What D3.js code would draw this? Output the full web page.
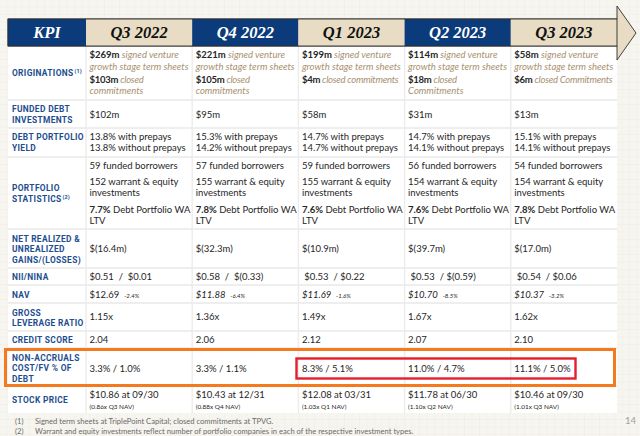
<!DOCTYPE html>
<html><head><meta charset="utf-8">
<script src="https://cdn.jsdelivr.net/npm/d3@7"></script>
<style>body{margin:0;background:#f7f5f0;} svg{display:block}</style>
</head><body><svg id="c" width="640" height="436"></svg>
<script>
// ---------- DATA ----------
const quarters = ["Q3 2022","Q4 2022","Q1 2023","Q2 2023","Q3 2023"];
const signedSheets = ["$269m","$221m","$199m","$114m","$58m"];
const signedNote = ["signed venture","growth stage term sheets"];
const closedCommit = ["$103m","$105m","$4m","$18m","$6m"];
const closedNote = ["closed\ncommitments","closed\ncommitments","closed commitments","closed\nCommitments","closed Commitments"];
const fundedDebt = ["$102m","$95m","$58m","$31m","$13m"];
const yieldWithPrepays = ["13.8%","15.3%","14.7%","14.7%","15.1%"];
const yieldWithoutPrepays = ["13.8%","14.2%","14.7%","14.1%","14.1%"];
const fundedBorrowers = [59,57,59,56,54];
const warrantEquity = [152,155,155,154,154];
const debtWaLtv = ["7.7%","7.8%","7.6%","7.6%","7.8%"];
const netGains = ["$(16.4m)","$(32.3m)","$(10.9m)","$(39.7m)","$(17.0m)"];
const nii = ["$0.51","$0.58","$0.53","$0.53","$0.54"];
const nina = ["$0.01","$(0.33)","$0.22","$(0.59)","$0.06"];
const nav = ["$12.69","$11.88","$11.69","$10.70","$10.37"];
const navChange = ["-2.4%","-6.4%","-1.6%","-8.5%","-3.2%"];
const leverage = ["1.15x","1.36x","1.49x","1.67x","1.62x"];
const creditScore = ["2.04","2.06","2.12","2.07","2.10"];
const nonAccrualCost = ["3.3%","3.3%","8.3%","11.0%","11.1%"];
const nonAccrualFV = ["1.0%","1.1%","5.1%","4.7%","5.0%"];
const stockPrice = ["$10.86","$10.43","$12.08","$11.78","$10.46"];
const stockDate = ["09/30","12/31","03/31","06/30","09/30"];
const priceToNav = ["0.86x Q3 NAV","0.88x Q4 NAV","1.03x Q1 NAV","1.10x Q2 NAV","1.01x Q3 NAV"];
const rowLabels = [["ORIGINATIONS"],["FUNDED DEBT","INVESTMENTS"],["DEBT PORTFOLIO","YIELD"],["PORTFOLIO","STATISTICS"],
  ["NET REALIZED &","UNREALIZED","GAINS/(LOSSES)"],["NII/NINA"],["NAV"],["GROSS","LEVERAGE RATIO"],["CREDIT SCORE"],
  ["NON-ACCRUALS","COST/FV % OF","DEBT"],["STOCK PRICE"]];
const labelNotes = ["(1)","","","(2)","","","","","","",""];
const footnotes = [["(1)","Signed term sheets at TriplePoint Capital; closed commitments at TPVG."],
  ["(2)","Warrant and equity investments reflect number of portfolio companies in each of the respective investment types."]];
const pageNumber = "14";

// ---------- STYLE ----------
const NAVY="#0b3b7a", TAN="#e8dcc4", LABEL="#1d4e8f", TXT="#262626", NOTE="#a8916f";
const VF="Lato, 'Liberation Sans', sans-serif", LF="Roboto, 'Liberation Sans', sans-serif";
const VS=9.5;
const W=640,H=436, L=8, R=617, HT=19, HB=46, BB=413;

const svg=d3.select("#c");
const defs=svg.append("defs");
const pat=defs.append("pattern").attr("id","grid").attr("width",7.5).attr("height",7.5).attr("patternUnits","userSpaceOnUse");
pat.append("rect").attr("width",7.5).attr("height",7.5).attr("fill","#f7f5f0");
pat.append("path").attr("d","M7.5,0V7.5M0,7.5H7.5").attr("stroke","#ebe7de").attr("stroke-width",0.6).attr("fill","none");
svg.append("rect").attr("width",W).attr("height",H).attr("fill","url(#grid)");

const x=d3.scaleBand().domain(quarters).range([86,R]);
const rowBounds=[46,100,128,157,229,268,285,303,331,348,386,413];

// body
svg.append("rect").attr("x",L).attr("y",HB).attr("width",R-L).attr("height",BB-HB).attr("fill","#fff");
svg.append("g").selectAll("line").data(rowBounds.slice(1,-1)).join("line")
  .attr("x1",L).attr("x2",R).attr("y1",d=>d).attr("y2",d=>d).attr("stroke","#e9e9e9").attr("stroke-width",1.6);
svg.append("g").selectAll("line").data(quarters).join("line")
  .attr("x1",d=>x(d)).attr("x2",d=>x(d)).attr("y1",HB).attr("y2",BB).attr("stroke","#ececec").attr("stroke-width",1.4);

// header arrow
svg.append("path").attr("d",`M${L},${HT}H${R}V6L636,33L${R},60V${HB}H${L}Z`).attr("fill",TAN).attr("stroke","#2e2e2e").attr("stroke-width",0.9);
const hdr=svg.append("g");
hdr.append("rect").attr("x",L).attr("y",HT).attr("width",86-L).attr("height",HB-HT).attr("fill",NAVY);
hdr.selectAll("rect.q").data(quarters).join("rect").attr("class","q")
  .attr("x",d=>x(d)).attr("y",HT).attr("width",x.bandwidth()).attr("height",HB-HT)
  .attr("fill",(d,i)=>i%2===1?NAVY:TAN);
svg.append("rect").attr("x",L).attr("y",HT).attr("width",R-L).attr("height",HB-HT).attr("fill","none").attr("stroke","#2e2e2e").attr("stroke-width",0.9);
hdr.append("text").attr("x",(L+86)/2).attr("y",(HT+HB)/2).attr("dy","0.36em").attr("text-anchor","middle")
  .attr("font-family","'Liberation Serif', serif").attr("font-weight","bold").attr("font-style","italic").attr("font-size",16.5).attr("fill","#fff").text("KPI");
hdr.selectAll("text.q").data(quarters).join("text").attr("class","q")
  .attr("x",d=>x(d)+x.bandwidth()/2).attr("y",(HT+HB)/2).attr("dy","0.36em").attr("text-anchor","middle")
  .attr("font-family","'Liberation Serif', serif").attr("font-weight","bold").attr("font-style","italic").attr("font-size",16.5)
  .attr("fill",(d,i)=>i%2===1?"#fff":"#111").text(d=>d);

function line(g,xp,yp,segs,ls){
  const t=g.append("text").attr("x",xp).attr("y",yp).attr("dy","0.35em").attr("font-family",VF).attr("font-size",VS).attr("fill",TXT).style("white-space","pre");
  if(ls) t.attr("letter-spacing",ls);
  segs.forEach(s=>{
    const ts=t.append("tspan").text(s.t);
    if(s.b) ts.attr("font-weight","bold");
    if(s.i) ts.attr("font-style","italic");
    if(s.c) ts.attr("fill",s.c);
    if(s.s) ts.attr("font-size",s.s);
  });
  return t;
}

// labels
const labelY=[[73],[109,120],[137,148],[188,199],[239,249,260],[277],[295],[313,323],[340],[358,368,379],[400]];
const lg=svg.append("g");
rowLabels.forEach((lines,r)=>{
  lines.forEach((s,k)=>{
    const t=lg.append("text").attr("x",12).attr("y",labelY[r][k]).attr("dy","0.35em")
      .attr("font-family",LF).attr("font-weight","bold").attr("font-size",8.4).attr("letter-spacing",0.35).attr("fill",LABEL).text(s);
    if(k===lines.length-1 && labelNotes[r]){
      t.append("tspan").attr("font-size",5.5).attr("dy","-0.5em").attr("dx",1).attr("letter-spacing",0).text(labelNotes[r]);
    }
  });
});

// values
const vg=svg.append("g");
quarters.forEach((q,i)=>{
  const cx=x(q)+3.5;
  line(vg,cx,55,[{t:signedSheets[i],b:1},{t:" "+signedNote[0],i:1,c:NOTE}]);
  line(vg,cx,67,[{t:signedNote[1],i:1,c:NOTE}]);
  const cn=closedNote[i].split("\n");
  line(vg,cx,80,[{t:closedCommit[i],b:1},{t:" "+cn[0],i:1,c:NOTE}],-0.25);
  if(cn[1]) line(vg,cx,91,[{t:cn[1],i:1,c:NOTE}]);
  line(vg,cx,115,[{t:fundedDebt[i]}]);
  line(vg,cx,137,[{t:yieldWithPrepays[i]+" with prepays"}]);
  line(vg,cx,148,[{t:yieldWithoutPrepays[i]+" without prepays"}]);
  line(vg,cx,166,[{t:fundedBorrowers[i]+" funded borrowers"}]);
  line(vg,cx,182,[{t:warrantEquity[i]+" warrant & equity"}]);
  line(vg,cx,193,[{t:"investments"}]);
  line(vg,cx,210,[{t:debtWaLtv[i],b:1},{t:" Debt Portfolio WA"}]);
  line(vg,cx,221,[{t:"LTV"}]);
  line(vg,cx,249,[{t:netGains[i]}]);
  line(vg,cx,277,[{t:(i<2?"":" ")+nii[i]+(i<2?"  /  ":"  / ")+nina[i]}]);
  line(vg,cx,295,[{t:nav[i],i:i>0?1:0},{t:"  "},{t:navChange[i],i:1,s:6}]);
  line(vg,cx,317,[{t:leverage[i]}]);
  line(vg,cx,340,[{t:creditScore[i]}]);
  line(vg,cx,369,[{t:nonAccrualCost[i]+" / "+nonAccrualFV[i]}]);
  line(vg,cx,395,[{t:stockPrice[i]+" at "+stockDate[i]}]);
  line(vg,cx,406,[{t:"("+priceToNav[i]+")",s:6.4}]);
});

// highlight boxes
svg.append("rect").attr("x",5.5).attr("y",349.5).attr("width",609).attr("height",36).attr("fill","none").attr("stroke","#f47a20").attr("stroke-width",3);
svg.append("rect").attr("x",296.5).attr("y",358.5).attr("width",279).attr("height",20).attr("fill","none").attr("stroke","#e41e2b").attr("stroke-width",2.4);

// footnotes
const fg=svg.append("g").attr("font-family",VF).attr("font-size",7.6).attr("fill","#6a6a6a");
footnotes.forEach((f,k)=>{
  fg.append("text").attr("x",15).attr("y",421+k*10).attr("dy","0.35em").text(f[0]);
  fg.append("text").attr("x",35).attr("y",421+k*10).attr("dy","0.35em").text(f[1]);
});
svg.append("text").attr("x",636).attr("y",421).attr("dy","0.35em").attr("text-anchor","end").attr("font-family",VF).attr("font-size",9.5).attr("fill","#a0a0a0").text(pageNumber);
</script></body></html>
